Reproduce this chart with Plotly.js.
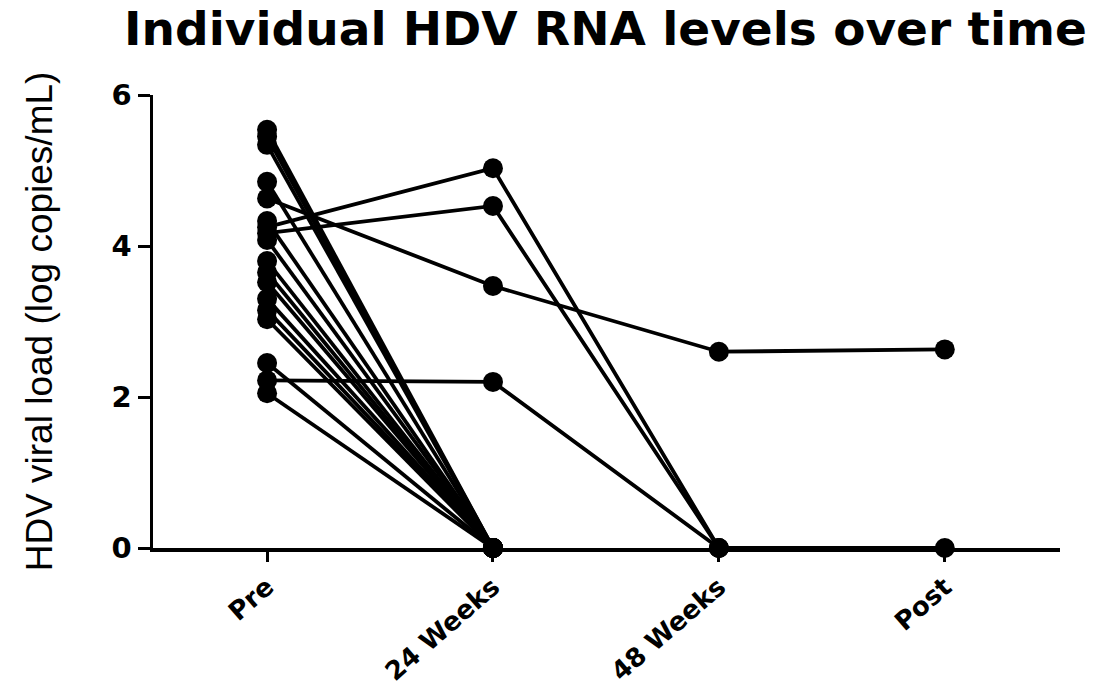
<!DOCTYPE html>
<html>
<head>
<meta charset="utf-8">
<script src="https://cdn.plot.ly/plotly-3.0.1.min.js"></script>
<style>html,body{margin:0;padding:0;background:#fff;}#chart{width:1107px;height:687px;}</style>
</head>
<body>
<div id="chart"></div>
<script>
const timepoints = ["Pre", "24 Weeks", "48 Weeks", "Post"];
// one entry per patient (log copies/mL); null = no measurement
const pre   = [5.54, 5.45, 5.34, 4.85, 4.63, 4.33, 4.25, 4.17, 4.08, 3.80, 3.65, 3.52, 3.30, 3.15, 3.03, 2.45, 2.22, 2.05];
const wk24  = [0,    0,    0,    0,    3.47, 0,    5.03, 4.53, 0,    0,    0,    0,    0,    0,    0,    0,    2.20, 0];
const wk48  = [null, null, null, null, 2.60, null, 0,    0,    null, null, null, null, null, null, null, null, 0,    null];
const post  = [null, null, null, null, 2.63, null, 0,    null, null, null, null, null, null, null, null, null, null, null];

const traces = pre.map((v, i) => {
  const ys = [v, wk24[i], wk48[i], post[i]];
  const xs = [];
  const yy = [];
  ys.forEach((y, j) => { if (y !== null) { xs.push(j); yy.push(y); } });
  return {
    type: "scatter",
    mode: "lines+markers",
    x: xs,
    y: yy,
    line: { color: "#000", width: 3.8 },
    marker: { color: "#000", size: 20, symbol: "circle" },
    cliponaxis: false,
    showlegend: false,
    hoverinfo: "x+y"
  };
});

const layout = {
  width: 1107,
  height: 687,
  paper_bgcolor: "#fff",
  plot_bgcolor: "#fff",
  margin: { l: 153, r: 47, t: 95, b: 139 },
  title: {
    text: "Individual HDV RNA levels over time",
    font: { family: "DejaVu Sans, Liberation Sans, sans-serif", size: 47, color: "#000", weight: "bold" },
    x: 0.547, xanchor: "center",
    y: 0.958, yanchor: "middle"
  },
  xaxis: {
    range: [-0.505, 3.51],
    tickmode: "array",
    tickvals: [0, 1, 2, 3],
    ticktext: timepoints,
    tickangle: -41,
    ticks: "outside",
    ticklen: 10,
    tickwidth: 3,
    tickcolor: "#000",
    showline: true,
    linewidth: 3.5,
    linecolor: "#000",
    showgrid: false,
    zeroline: false,
    tickfont: { family: "DejaVu Sans, Liberation Sans, sans-serif", size: 26, color: "#000", weight: "bold" }
  },
  yaxis: {
    range: [0, 6],
    tickvals: [0, 2, 4, 6],
    ticks: "outside",
    ticklen: 12,
    tickwidth: 3,
    tickcolor: "#000",
    showline: true,
    linewidth: 3.5,
    linecolor: "#000",
    showgrid: false,
    zeroline: false,
    tickfont: { family: "DejaVu Sans, Liberation Sans, sans-serif", size: 29, color: "#000", weight: "bold" },
    title: {
      text: "HDV viral load (log copies/mL)",
      font: { family: "Liberation Sans, Arial, sans-serif", size: 37, color: "#000" },
      standoff: 48
    }
  }
};

Plotly.newPlot("chart", traces, layout, { displayModeBar: false, staticPlot: true });
</script>
</body>
</html>
